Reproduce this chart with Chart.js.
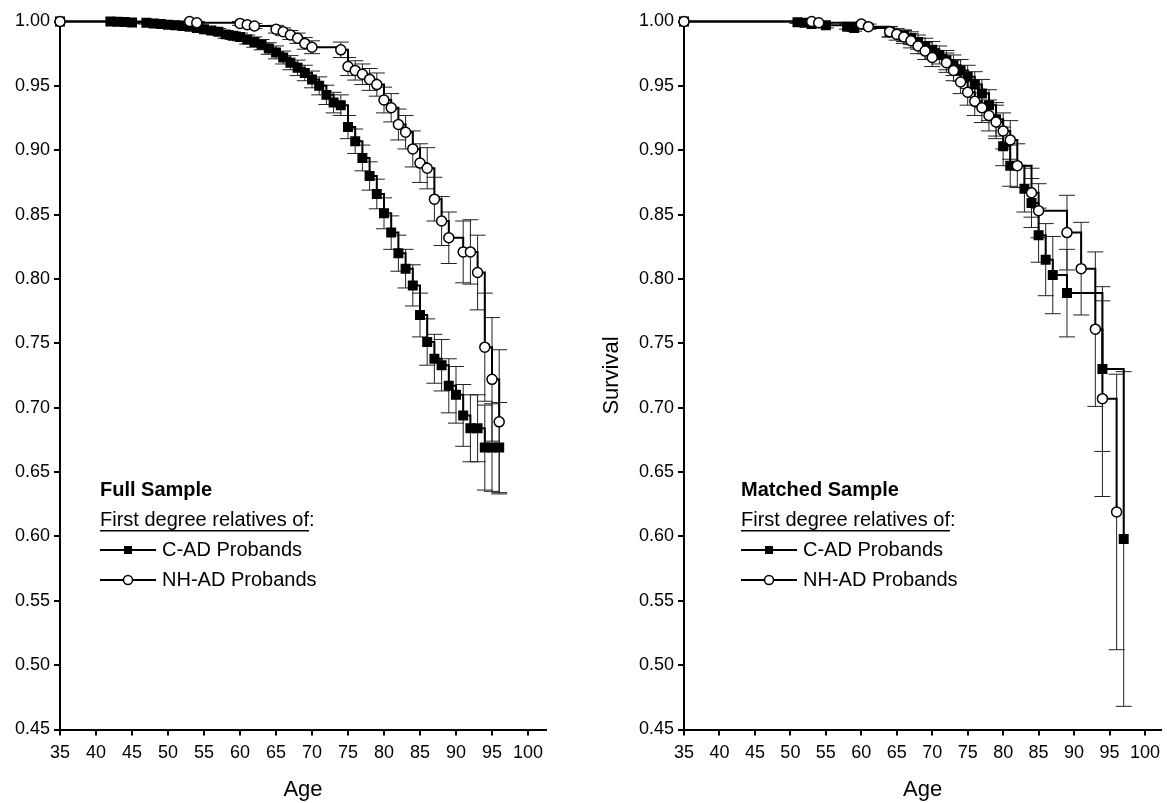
<!DOCTYPE html>
<html>
<head>
<meta charset="utf-8">
<script src="https://cdn.jsdelivr.net/npm/chart.js@4.4.0/dist/chart.umd.min.js"></script>
<style>
  body { margin: 0; background: #fff; }
  #wrap { position: relative; width: 1167px; height: 803px; overflow: hidden; }
  #left { position: absolute; left: 0; top: 0; }
  #right { position: absolute; left: 583px; top: 0; }
</style>
</head>
<body>
<div id="wrap">
  <canvas id="left" width="583" height="803" style="width:583px;height:803px"></canvas>
  <canvas id="right" width="584" height="803" style="width:584px;height:803px"></canvas>
</div>
<script>
const xTicks = [35, 40, 45, 50, 55, 60, 65, 70, 75, 80, 85, 90, 95, 100];
const yTicks = [0.45, 0.50, 0.55, 0.60, 0.65, 0.70, 0.75, 0.80, 0.85, 0.90, 0.95, 1.00];
const seriesNames = ['C-AD Probands', 'NH-AD Probands'];

// Full sample, C-AD
const fullAgeCAD = [35, 42, 43, 44, 45, 47, 48, 49, 50, 51, 52, 53, 54, 55, 56, 57, 58, 59, 60, 61, 62, 63, 64, 65, 66, 67, 68, 69, 70, 71, 72, 73, 74, 75, 76, 77, 78, 79, 80, 81, 82, 83, 84, 85, 86, 87, 88, 89, 90, 91, 92, 93, 94, 95, 96];
const fullSurvCAD = [1.000, 1.000, 0.9998, 0.9996, 0.9993, 0.999, 0.9985, 0.998, 0.9975, 0.997, 0.9965, 0.996, 0.995, 0.994, 0.993, 0.992, 0.990, 0.989, 0.988, 0.986, 0.984, 0.982, 0.979, 0.976, 0.972, 0.968, 0.964, 0.960, 0.955, 0.950, 0.943, 0.937, 0.935, 0.918, 0.907, 0.894, 0.880, 0.866, 0.851, 0.836, 0.820, 0.808, 0.795, 0.772, 0.751, 0.738, 0.733, 0.717, 0.710, 0.694, 0.684, 0.684, 0.669, 0.669, 0.669];
const fullErrCAD = [0, 0, 0.001, 0.001, 0.001, 0.001, 0.001, 0.0015, 0.0015, 0.0015, 0.002, 0.002, 0.002, 0.002, 0.0025, 0.0025, 0.003, 0.003, 0.003, 0.0035, 0.004, 0.004, 0.0045, 0.005, 0.005, 0.0055, 0.006, 0.006, 0.0065, 0.007, 0.0075, 0.008, 0.008, 0.009, 0.0095, 0.010, 0.011, 0.0115, 0.012, 0.013, 0.014, 0.015, 0.016, 0.017, 0.018, 0.019, 0.020, 0.021, 0.022, 0.024, 0.026, 0.026, 0.033, 0.034, 0.035];

// Full sample, NH-AD
const fullAgeNH = [35, 53, 54, 60, 61, 62, 65, 66, 67, 68, 69, 70, 74, 75, 76, 77, 78, 79, 80, 81, 82, 83, 84, 85, 86, 87, 88, 89, 91, 92, 93, 94, 95, 96];
const fullSurvNH = [1.000, 1.000, 0.999, 0.9985, 0.9975, 0.9965, 0.994, 0.992, 0.9895, 0.987, 0.983, 0.980, 0.978, 0.965, 0.962, 0.959, 0.955, 0.951, 0.939, 0.933, 0.920, 0.914, 0.901, 0.890, 0.886, 0.862, 0.845, 0.832, 0.821, 0.821, 0.805, 0.747, 0.722, 0.689];
const fullErrNH = [0, 0, 0.001, 0.0015, 0.002, 0.002, 0.003, 0.003, 0.0035, 0.004, 0.0045, 0.005, 0.006, 0.007, 0.0075, 0.008, 0.0085, 0.009, 0.010, 0.011, 0.012, 0.013, 0.014, 0.015, 0.016, 0.017, 0.019, 0.020, 0.024, 0.025, 0.029, 0.042, 0.048, 0.056];

// Matched sample, C-AD
const matchAgeCAD = [35, 51, 52, 53, 55, 58, 59, 64, 66, 67, 68, 69, 70, 71, 72, 73, 74, 75, 76, 77, 78, 79, 80, 81, 83, 84, 85, 86, 87, 89, 94, 97];
const matchSurvCAD = [1.000, 0.9995, 0.999, 0.998, 0.997, 0.996, 0.995, 0.992, 0.989, 0.987, 0.984, 0.981, 0.978, 0.974, 0.970, 0.966, 0.962, 0.957, 0.951, 0.944, 0.935, 0.924, 0.903, 0.888, 0.870, 0.859, 0.834, 0.815, 0.803, 0.789, 0.730, 0.598];
const matchErrCAD = [0, 0.001, 0.001, 0.0015, 0.002, 0.002, 0.0025, 0.004, 0.0045, 0.005, 0.0055, 0.006, 0.0065, 0.007, 0.0075, 0.008, 0.0085, 0.009, 0.010, 0.011, 0.012, 0.013, 0.015, 0.016, 0.018, 0.019, 0.021, 0.028, 0.030, 0.034, 0.064, 0.130];

// Matched sample, NH-AD
const matchAgeNH = [35, 53, 54, 60, 61, 64, 65, 66, 67, 68, 69, 70, 72, 73, 74, 75, 76, 77, 78, 79, 80, 81, 82, 84, 85, 89, 91, 93, 94, 96];
const matchSurvNH = [1.000, 1.000, 0.999, 0.998, 0.996, 0.992, 0.990, 0.988, 0.985, 0.981, 0.977, 0.972, 0.968, 0.962, 0.953, 0.945, 0.938, 0.933, 0.927, 0.922, 0.915, 0.908, 0.888, 0.867, 0.853, 0.836, 0.808, 0.761, 0.707, 0.619];
const matchErrNH = [0, 0, 0.001, 0.0015, 0.002, 0.004, 0.0045, 0.005, 0.0055, 0.006, 0.0065, 0.007, 0.0075, 0.008, 0.009, 0.010, 0.011, 0.0115, 0.012, 0.013, 0.014, 0.015, 0.017, 0.019, 0.021, 0.029, 0.036, 0.060, 0.076, 0.107];

const FONT = '"Liberation Sans", Arial, Helvetica, sans-serif';

function points(ages, surv) {
  return ages.map((a, i) => ({ x: a, y: surv[i] }));
}

function kmDataset(label, ages, surv, err, style) {
  return {
    label: label,
    data: points(ages, surv),
    err: err,
    stepped: true,
    borderColor: '#000',
    borderWidth: 2,
    pointStyle: style,
    pointRadius: style == 'rect' ? 6 : 5,
    pointBackgroundColor: style == 'rect' ? '#000' : '#fff',
    pointBorderColor: '#000',
    pointBorderWidth: 1.5,
    clip: false
  };
}

// vertical error bars with caps, drawn under the curves
const errorBars = {
  id: 'errorBars',
  beforeDatasetsDraw(chart) {
    const ctx = chart.ctx;
    const xs = chart.scales.x, ys = chart.scales.y;
    ctx.save();
    ctx.strokeStyle = '#222';
    ctx.lineWidth = 1;
    chart.data.datasets.forEach(ds => {
      ds.data.forEach((p, i) => {
        const e = ds.err[i];
        if (!e) return;
        const px = xs.getPixelForValue(p.x);
        const top = ys.getPixelForValue(Math.min(1, p.y + e));
        const bot = ys.getPixelForValue(p.y - e);
        ctx.beginPath();
        ctx.moveTo(px, top); ctx.lineTo(px, bot);
        ctx.moveTo(px - 8, top); ctx.lineTo(px + 8, top);
        ctx.moveTo(px - 8, bot); ctx.lineTo(px + 8, bot);
        ctx.stroke();
      });
    });
    ctx.restore();
  }
};

// legend block inside the plot
const kmLegend = {
  id: 'kmLegend',
  afterDraw(chart, args, o) {
    const ctx = chart.ctx;
    const x0 = chart.chartArea.left + o.dx;
    const gap = 30;
    ctx.save();
    ctx.fillStyle = '#000';
    ctx.strokeStyle = '#000';
    ctx.textBaseline = 'middle';
    ctx.font = 'bold 20px ' + FONT;
    ctx.fillText(o.title, x0, o.y0);
    ctx.font = '20px ' + FONT;
    const sub = 'First degree relatives of';
    ctx.fillText(sub, x0, o.y0 + gap);
    const w = ctx.measureText(sub).width;
    ctx.fillText(':', x0 + w, o.y0 + gap);
    ctx.fillRect(x0, o.y0 + gap + 10, w, 1.5);
    seriesNames.forEach((name, k) => {
      const y = o.y0 + gap * (k + 2);
      ctx.lineWidth = 2;
      ctx.beginPath();
      ctx.moveTo(x0, y); ctx.lineTo(x0 + 56, y);
      ctx.stroke();
      ctx.lineWidth = 1.5;
      if (k == 0) {
        ctx.fillRect(x0 + 24, y - 4, 8, 8);
      } else {
        ctx.beginPath();
        ctx.arc(x0 + 28, y, 4.5, 0, Math.PI * 2);
        ctx.fillStyle = '#fff';
        ctx.fill();
        ctx.stroke();
        ctx.fillStyle = '#000';
      }
      ctx.fillText(name, x0 + 62, y);
    });
    ctx.restore();
  }
};

function makeOptions(o) {
  return {
    responsive: false,
    animation: false,
    layout: { padding: o.padding, autoPadding: false },
    plugins: {
      legend: { display: false },
      tooltip: { enabled: false },
      kmLegend: { title: o.title, dx: o.legendX, y0: 490 }
    },
    scales: {
      x: {
        type: 'linear',
        min: 35,
        max: o.xMax,
        afterBuildTicks: s => { s.ticks = xTicks.map(v => ({ value: v })); },
        afterFit: s => { s.height = 73.5; },
        grid: { drawOnChartArea: false, color: '#000', lineWidth: 2, tickLength: 6 },
        border: { color: '#000', width: 2 },
        ticks: { color: '#000', font: { family: FONT, size: 18 }, padding: 7, maxRotation: 0, autoSkip: false },
        title: { display: true, text: 'Age', color: '#000', font: { family: FONT, size: 22 }, padding: 0 }
      },
      y: {
        type: 'linear',
        min: 0.45,
        max: 1.0,
        afterBuildTicks: s => { s.ticks = yTicks.map(v => ({ value: v })); },
        afterFit: s => { s.width = o.yWidth; },
        grid: { drawOnChartArea: false, color: '#000', lineWidth: 2, tickLength: 6 },
        border: { color: '#000', width: 2 },
        ticks: { color: '#000', font: { family: FONT, size: 18 }, padding: 4, callback: v => v.toFixed(2) },
        title: { display: !!o.yTitle, text: o.yTitle || '', color: '#000', font: { family: FONT, size: 22 }, padding: 0 }
      }
    }
  };
}

new Chart(document.getElementById('left'), {
  type: 'line',
  data: {
    datasets: [
      kmDataset('NH-AD Probands', fullAgeNH, fullSurvNH, fullErrNH, 'circle'),
      kmDataset('C-AD Probands', fullAgeCAD, fullSurvCAD, fullErrCAD, 'rect')
    ]
  },
  options: makeOptions({
    padding: { left: 0, top: 21.5, right: 37, bottom: 0 },
    xMax: 102.5, yWidth: 60, title: 'Full Sample', legendX: 40
  }),
  plugins: [errorBars, kmLegend]
});

new Chart(document.getElementById('right'), {
  type: 'line',
  data: {
    datasets: [
      kmDataset('NH-AD Probands', matchAgeNH, matchSurvNH, matchErrNH, 'circle'),
      kmDataset('C-AD Probands', matchAgeCAD, matchSurvCAD, matchErrCAD, 'rect')
    ]
  },
  options: makeOptions({
    padding: { left: 16, top: 21.5, right: 0, bottom: 0 },
    xMax: 102.3, yWidth: 85, yTitle: 'Survival', title: 'Matched Sample', legendX: 57
  }),
  plugins: [errorBars, kmLegend]
});
</script>
</body>
</html>
